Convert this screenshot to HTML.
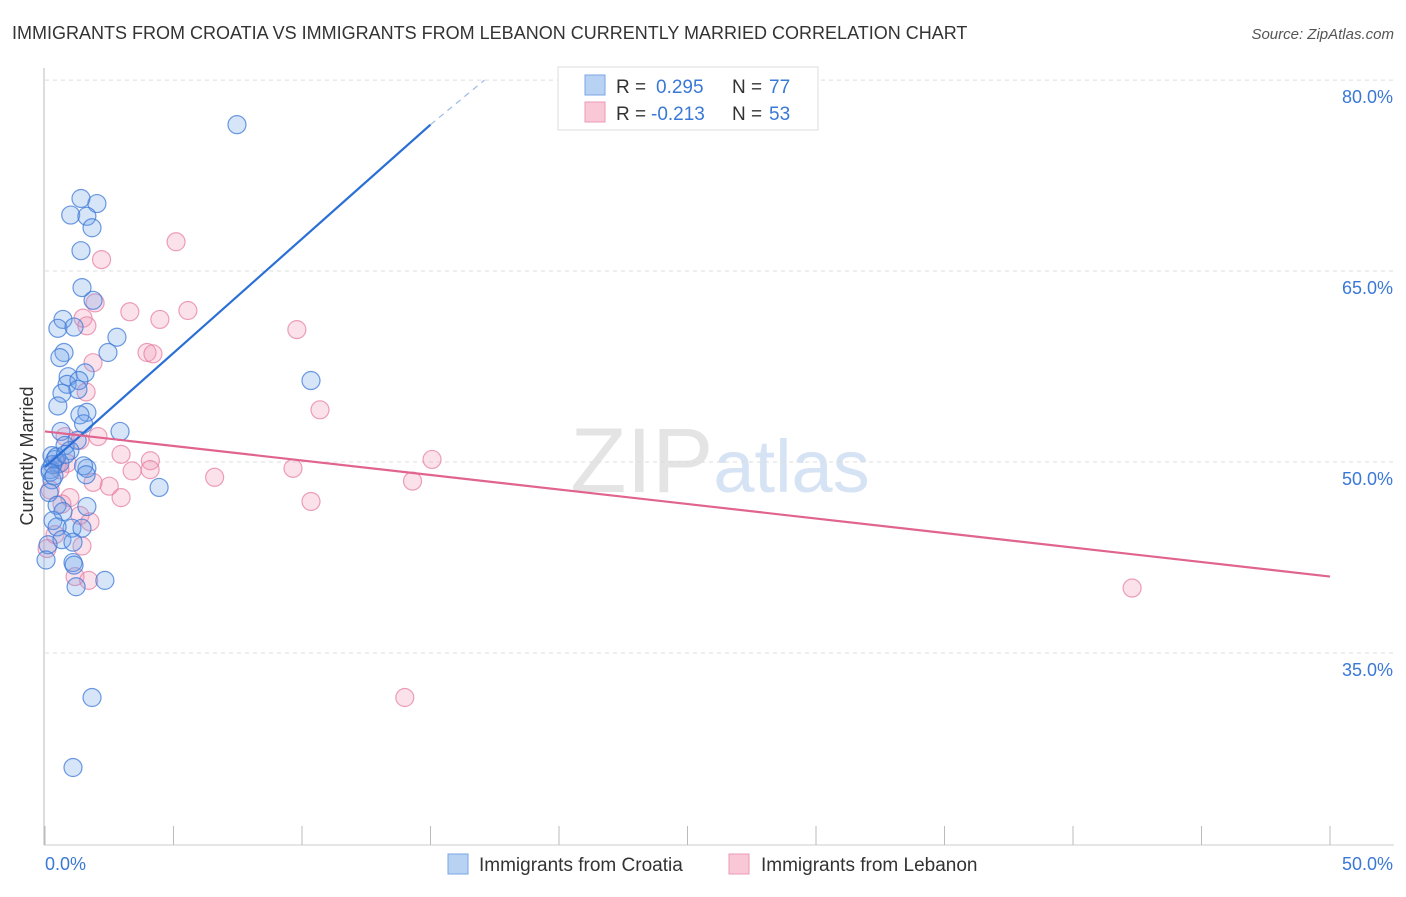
<!DOCTYPE html>
<html><head><meta charset="utf-8"><style>
body{margin:0;background:#fff;font-family:"Liberation Sans",sans-serif;}
svg text{font-family:"Liberation Sans",sans-serif;}
</style></head><body>
<svg id="chart" width="1406" height="892" viewBox="0 0 1406 892">
<text x="12" y="39" font-size="18" fill="#333">IMMIGRANTS FROM CROATIA VS IMMIGRANTS FROM LEBANON CURRENTLY MARRIED CORRELATION CHART</text>
<text x="1394" y="39" font-size="15" fill="#555" text-anchor="end" font-style="italic">Source: ZipAtlas.com</text>
<text x="720" y="492" font-size="92" text-anchor="middle" fill="#e4e4e4" font-family="Liberation Serif">ZIP<tspan fill="#d6e3f4" font-family="Liberation Sans" font-size="74">atlas</tspan></text>
<g id="grid"></g>
<g id="axes"></g>
<g id="points"></g>
<g id="lines"></g>
<text transform="translate(33,456) rotate(-90)" font-size="18" fill="#333" text-anchor="middle">Currently Married</text>
<g>
<rect x="558" y="67" width="260" height="63" fill="#fff" stroke="#ddd"/>
<rect x="585" y="75" width="20" height="20" fill="#b8d2f4" stroke="#7aa6e6"/>
<rect x="585" y="102" width="20" height="20" fill="#f8c8d6" stroke="#ec9ab4"/>
<text x="616" y="93" font-size="19" fill="#333">R = </text><text x="656" y="93" font-size="19" fill="#3a78d6">0.295</text>
<text x="732" y="93" font-size="19" fill="#333">N = </text><text x="769" y="93" font-size="19" fill="#3a78d6">77</text>
<text x="616" y="120" font-size="19" fill="#333">R = </text><text x="651" y="120" font-size="19" fill="#3a78d6">-0.213</text>
<text x="732" y="120" font-size="19" fill="#333">N = </text><text x="769" y="120" font-size="19" fill="#3a78d6">53</text>
</g>
<g>
<rect x="448" y="854" width="20" height="20" fill="#b8d2f4" stroke="#7aa6e6"/>
<text x="479" y="871" font-size="19" fill="#333">Immigrants from Croatia</text>
<rect x="729" y="854" width="20" height="20" fill="#f8c8d6" stroke="#ec9ab4"/>
<text x="761" y="871" font-size="19" fill="#333">Immigrants from Lebanon</text>
</g>
</svg>
<script>
const xTicks=[0,5,10,15,20,25,30,35,40,45,50];
const yTicks=[35,50,65,80];
const yTickLabels=["35.0%","50.0%","65.0%","80.0%"];
const croatiaX=[7.47,1.4,2.02,1.0,1.63,1.83,1.4,1.44,1.87,0.7,0.5,1.13,2.8,2.45,0.74,0.58,0.9,1.56,0.86,1.32,1.28,10.35,0.66,0.5,1.63,1.36,1.5,0.62,2.92,1.25,0.78,0.97,0.27,0.39,0.58,1.63,1.5,4.44,0.2,1.6,0.27,0.16,0.47,1.63,0.7,0.31,1.05,1.44,0.47,0.66,1.09,0.12,0.04,1.09,1.13,2.33,1.21,1.83,1.09,0.3,0.45,0.2,0.8,0.35];
const croatiaY=[76.5,70.7,70.3,69.4,69.3,68.4,66.6,63.7,62.7,61.2,60.5,60.6,59.8,58.6,58.6,58.2,56.7,57.0,56.1,56.4,55.7,56.4,55.4,54.4,53.9,53.7,53.0,52.4,52.4,51.7,51.3,50.9,50.5,50.2,49.9,49.5,49.7,48.0,49.4,49.0,48.6,47.6,46.6,46.5,46.1,45.4,44.8,44.8,44.9,43.9,43.7,43.5,42.3,42.1,41.9,40.7,40.2,31.5,26.0,49.8,50.4,49.2,50.6,48.9];
const lebanonX=[5.1,2.2,1.95,5.56,3.3,4.47,1.48,1.63,9.8,3.97,4.2,1.87,1.6,10.7,2.06,0.78,1.36,2.96,4.1,15.06,0.86,0.47,4.09,3.39,9.65,6.6,14.3,2.5,1.87,0.2,2.96,0.97,10.35,0.66,1.36,1.75,0.39,1.44,0.08,1.17,1.7,42.3,14.0,0.58];
const lebanonY=[67.3,65.9,62.5,61.9,61.8,61.2,61.3,60.7,60.4,58.6,58.5,57.8,55.5,54.1,52.0,52.0,51.7,50.6,50.1,50.2,49.9,49.8,49.4,49.3,49.5,48.8,48.5,48.1,48.4,47.8,47.2,47.2,46.9,46.7,45.8,45.3,44.3,43.4,43.2,41.0,40.7,40.1,31.5,49.4];
const croatiaTrend=[[0,49.6],[15,76.5],[17.1,80]];
const lebanonTrend=[[0,52.4],[50,41.0]];
const NS='http://www.w3.org/2000/svg';
const X=v=>45+v/50*1285;
const Y=v=>462-(v-50)*12.73;
function mk(t,a,p){const e=document.createElementNS(NS,t);for(const k in a)e.setAttribute(k,a[k]);p.appendChild(e);return e;}
const grid=document.getElementById('grid'),axes=document.getElementById('axes'),pts=document.getElementById('points'),lines=document.getElementById('lines');
yTicks.forEach((v,i)=>{
 const l=mk('line',{x1:45,x2:1394,y1:Y(v),y2:Y(v),stroke:'#ddd','stroke-dasharray':'4,4'},grid);
 
 
 const t=mk('text',{x:1393,y:Y(v)+23,'font-size':18,fill:'#3a78d6','text-anchor':'end'},axes);
 t.textContent=yTickLabels[i];
 
 
});
const ya=mk('line',{x1:44,x2:44,y1:68,y2:845,stroke:'#bbb'},axes);


const xa=mk('line',{x1:44,x2:1394,y1:845,y2:845,stroke:'#ccc'},axes);


xTicks.forEach(v=>{
 const l=mk('line',{x1:X(v),x2:X(v),y1:826,y2:845,stroke:'#bbb'},axes);
 
 
});
const xl0=mk('text',{x:45,y:870,'font-size':18,fill:'#3a78d6'},axes);xl0.textContent='0.0%';


const xl1=mk('text',{x:1393,y:870,'font-size':18,fill:'#3a78d6','text-anchor':'end'},axes);xl1.textContent='50.0%';


lebanonX.forEach((v,i)=>{
 const c=mk('circle',{cx:X(v),cy:Y(lebanonY[i]),r:9,fill:'rgba(240,150,180,0.28)',stroke:'rgba(230,120,160,0.7)','stroke-width':1.2},pts);
 
 
});
croatiaX.forEach((v,i)=>{
 const c=mk('circle',{cx:X(v),cy:Y(croatiaY[i]),r:9,fill:'rgba(110,160,235,0.28)',stroke:'rgba(60,120,215,0.75)','stroke-width':1.2},pts);
 
 
});
const b1=mk('line',{x1:X(croatiaTrend[0][0]),y1:Y(croatiaTrend[0][1]),x2:X(croatiaTrend[1][0]),y2:Y(croatiaTrend[1][1]),stroke:'#2a6fd6','stroke-width':2.2},lines);


const b2=mk('line',{x1:X(croatiaTrend[1][0]),y1:Y(croatiaTrend[1][1]),x2:X(croatiaTrend[2][0]),y2:Y(croatiaTrend[2][1]),stroke:'#9bbbe8','stroke-width':1.2,'stroke-dasharray':'6,5'},lines);


const p1=mk('line',{x1:X(lebanonTrend[0][0]),y1:Y(lebanonTrend[0][1]),x2:X(lebanonTrend[1][0]),y2:Y(lebanonTrend[1][1]),stroke:'#e0648f','stroke-width':2.2},lines);


</script>
</body></html>
